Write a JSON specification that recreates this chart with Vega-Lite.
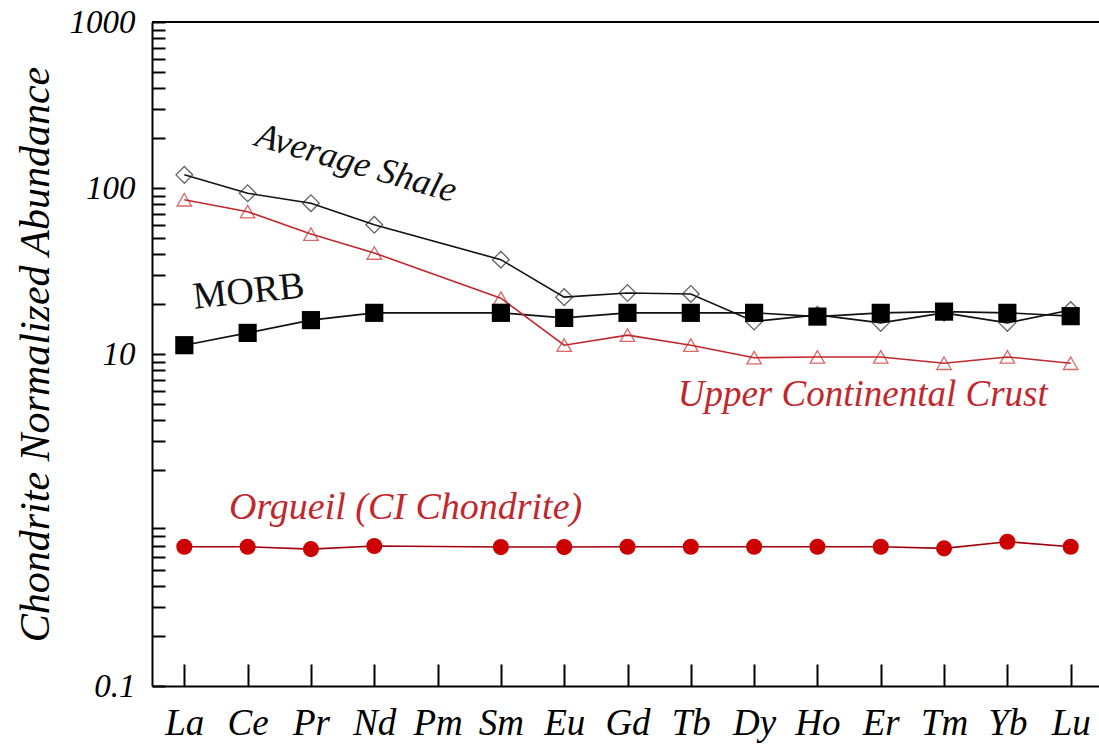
{
  "$schema": "https://vega.github.io/schema/vega-lite/v6.json",
  "width": 947,
  "height": 664,
  "autosize": "none",
  "padding": {"left": 152, "top": 22, "right": 0, "bottom": 68},
  "background": "white",
  "config": {"view": {"stroke": null}, "font": "Liberation Serif"},
  "datasets": {
    "ree": [
      {"element": "La", "series": "Average Shale", "value": 120},
      {"element": "Ce", "series": "Average Shale", "value": 93},
      {"element": "Pr", "series": "Average Shale", "value": 81},
      {"element": "Nd", "series": "Average Shale", "value": 60},
      {"element": "Sm", "series": "Average Shale", "value": 37},
      {"element": "Eu", "series": "Average Shale", "value": 22},
      {"element": "Gd", "series": "Average Shale", "value": 23.3},
      {"element": "Tb", "series": "Average Shale", "value": 23},
      {"element": "Dy", "series": "Average Shale", "value": 15.7},
      {"element": "Ho", "series": "Average Shale", "value": 17.2},
      {"element": "Er", "series": "Average Shale", "value": 15.4},
      {"element": "Tm", "series": "Average Shale", "value": 17.7},
      {"element": "Yb", "series": "Average Shale", "value": 15.4},
      {"element": "Lu", "series": "Average Shale", "value": 18.4},
      {"element": "La", "series": "MORB", "value": 11.3},
      {"element": "Ce", "series": "MORB", "value": 13.4},
      {"element": "Pr", "series": "MORB", "value": 16},
      {"element": "Nd", "series": "MORB", "value": 17.7},
      {"element": "Sm", "series": "MORB", "value": 17.7},
      {"element": "Eu", "series": "MORB", "value": 16.5},
      {"element": "Gd", "series": "MORB", "value": 17.7},
      {"element": "Tb", "series": "MORB", "value": 17.7},
      {"element": "Dy", "series": "MORB", "value": 17.7},
      {"element": "Ho", "series": "MORB", "value": 16.8},
      {"element": "Er", "series": "MORB", "value": 17.7},
      {"element": "Tm", "series": "MORB", "value": 18},
      {"element": "Yb", "series": "MORB", "value": 17.7},
      {"element": "Lu", "series": "MORB", "value": 16.9},
      {"element": "La", "series": "Upper Continental Crust", "value": 85},
      {"element": "Ce", "series": "Upper Continental Crust", "value": 72},
      {"element": "Pr", "series": "Upper Continental Crust", "value": 52.8},
      {"element": "Nd", "series": "Upper Continental Crust", "value": 40.6},
      {"element": "Sm", "series": "Upper Continental Crust", "value": 21.7},
      {"element": "Eu", "series": "Upper Continental Crust", "value": 11.3},
      {"element": "Gd", "series": "Upper Continental Crust", "value": 13},
      {"element": "Tb", "series": "Upper Continental Crust", "value": 11.3},
      {"element": "Dy", "series": "Upper Continental Crust", "value": 9.5},
      {"element": "Ho", "series": "Upper Continental Crust", "value": 9.6},
      {"element": "Er", "series": "Upper Continental Crust", "value": 9.6},
      {"element": "Tm", "series": "Upper Continental Crust", "value": 8.8},
      {"element": "Yb", "series": "Upper Continental Crust", "value": 9.6},
      {"element": "Lu", "series": "Upper Continental Crust", "value": 8.8},
      {"element": "La", "series": "Orgueil (CI Chondrite)", "value": 0.69},
      {"element": "Ce", "series": "Orgueil (CI Chondrite)", "value": 0.69},
      {"element": "Pr", "series": "Orgueil (CI Chondrite)", "value": 0.668},
      {"element": "Nd", "series": "Orgueil (CI Chondrite)", "value": 0.697},
      {"element": "Sm", "series": "Orgueil (CI Chondrite)", "value": 0.687},
      {"element": "Eu", "series": "Orgueil (CI Chondrite)", "value": 0.687},
      {"element": "Gd", "series": "Orgueil (CI Chondrite)", "value": 0.69},
      {"element": "Tb", "series": "Orgueil (CI Chondrite)", "value": 0.69},
      {"element": "Dy", "series": "Orgueil (CI Chondrite)", "value": 0.69},
      {"element": "Ho", "series": "Orgueil (CI Chondrite)", "value": 0.69},
      {"element": "Er", "series": "Orgueil (CI Chondrite)", "value": 0.69},
      {"element": "Tm", "series": "Orgueil (CI Chondrite)", "value": 0.675},
      {"element": "Yb", "series": "Orgueil (CI Chondrite)", "value": 0.74},
      {"element": "Lu", "series": "Orgueil (CI Chondrite)", "value": 0.69}
    ]
  },
  "layer": [
    {
      "data": {"name": "ree"},
      "encoding": {
        "x": {
          "field": "element",
          "type": "nominal",
          "sort": null,
          "scale": {"type": "point", "domain": ["La","Ce","Pr","Nd","Pm","Sm","Eu","Gd","Tb","Dy","Ho","Er","Tm","Yb","Lu"], "padding": 0.479, "align": 0.533},
          "axis": {
            "orient": "bottom", "title": null, "labelAngle": 0,
            "domainColor": "black", "domainWidth": 2,
            "tickColor": "black", "tickWidth": 2, "tickSize": -22,
            "labelFont": "Liberation Serif", "labelFontStyle": "italic", "labelFontSize": 37,
            "labelColor": "black", "labelPadding": 41, "labelOverlap": false
          }
        },
        "y": {
          "field": "value",
          "type": "quantitative",
          "scale": {"type": "log", "domain": [0.1, 1000], "nice": false},
          "axis": {
            "title": "Chondrite Normalized Abundance",
            "titleFont": "Liberation Serif", "titleFontStyle": "italic", "titleFontWeight": "normal",
            "titleFontSize": 42, "titleColor": "black", "titlePadding": 12,
            "values": [0.1,0.2,0.3,0.4,0.5,0.6,0.7,0.8,0.9,2,3,4,5,6,7,8,9,10,20,30,40,50,60,70,80,90,100,200,300,400,500,600,700,800,900,1000],
            "format": "~g",
            "labelExpr": "(datum.value == 0.1 || datum.value == 10 || datum.value == 100 || datum.value == 1000) ? datum.label : ''",
            "labelFont": "Liberation Serif", "labelFontStyle": "italic", "labelFontSize": 33,
            "labelColor": "black", "labelPadding": 30, "labelOverlap": false,
            "domainColor": "black", "domainWidth": 2,
            "tickColor": "black", "tickWidth": 2, "tickSize": -13,
            "grid": false
          }
        }
      },
      "layer": [
        {
          "mark": {"type": "line", "strokeWidth": 1.6},
          "encoding": {
            "color": {
              "field": "series", "type": "nominal", "legend": null,
              "scale": {"domain": ["Average Shale","MORB","Upper Continental Crust","Orgueil (CI Chondrite)"], "range": ["#111111","#111111","#c0282d","#a00010"]}
            },
            "detail": {"field": "series"}
          }
        },
        {
          "transform": [{"filter": "datum.series == 'Average Shale'"}],
          "mark": {"type": "point", "shape": "diamond", "filled": false, "size": 280, "stroke": "#222222", "strokeWidth": 1.3}
        },
        {
          "transform": [{"filter": "datum.series == 'Upper Continental Crust'"}],
          "mark": {"type": "point", "shape": "triangle-up", "filled": false, "size": 210, "stroke": "#cc2a2a", "strokeWidth": 1.3}
        },
        {
          "transform": [{"filter": "datum.series == 'MORB'"}],
          "mark": {"type": "point", "shape": "square", "filled": true, "size": 330, "color": "black", "opacity": 1}
        },
        {
          "transform": [{"filter": "datum.series == 'Orgueil (CI Chondrite)'"}],
          "mark": {"type": "point", "shape": "circle", "filled": true, "size": 260, "color": "#cc0000", "opacity": 1}
        }
      ]
    },
    {
      "data": {"values": [{"edge": "top"}]},
      "mark": {"type": "rule", "color": "black", "strokeWidth": 2},
      "encoding": {"y": {"datum": 1000}}
    },
    {
      "data": {"values": [{"label": "Average Shale", "element": "Nd", "value": 137}]},
      "mark": {"type": "text", "font": "Liberation Serif", "fontStyle": "italic", "fontSize": 36, "angle": 16, "dx": -18, "dy": 3, "align": "center", "baseline": "middle", "color": "#111111"},
      "encoding": {"text": {"field": "label"}, "x": {"field": "element", "type": "nominal"}, "y": {"field": "value", "type": "quantitative"}}
    },
    {
      "data": {"values": [{"label": "MORB", "element": "Ce", "value": 23.6}]},
      "mark": {"type": "text", "font": "Liberation Serif", "fontSize": 38, "angle": 354, "dx": 1, "align": "center", "baseline": "middle", "color": "#111111"},
      "encoding": {"text": {"field": "label"}, "x": {"field": "element", "type": "nominal"}, "y": {"field": "value", "type": "quantitative"}}
    },
    {
      "data": {"values": [{"label": "Upper Continental Crust", "element": "Er", "value": 5.66}]},
      "mark": {"type": "text", "font": "Liberation Serif", "fontStyle": "italic", "fontSize": 37, "dx": -18, "align": "center", "baseline": "middle", "color": "#c0282d"},
      "encoding": {"text": {"field": "label"}, "x": {"field": "element", "type": "nominal"}, "y": {"field": "value", "type": "quantitative"}}
    },
    {
      "data": {"values": [{"label": "Orgueil (CI Chondrite)", "element": "Pm", "value": 1.18}]},
      "mark": {"type": "text", "font": "Liberation Serif", "fontStyle": "italic", "fontSize": 38, "dx": -32, "align": "center", "baseline": "middle", "color": "#c0282d"},
      "encoding": {"text": {"field": "label"}, "x": {"field": "element", "type": "nominal"}, "y": {"field": "value", "type": "quantitative"}}
    }
  ]
}
